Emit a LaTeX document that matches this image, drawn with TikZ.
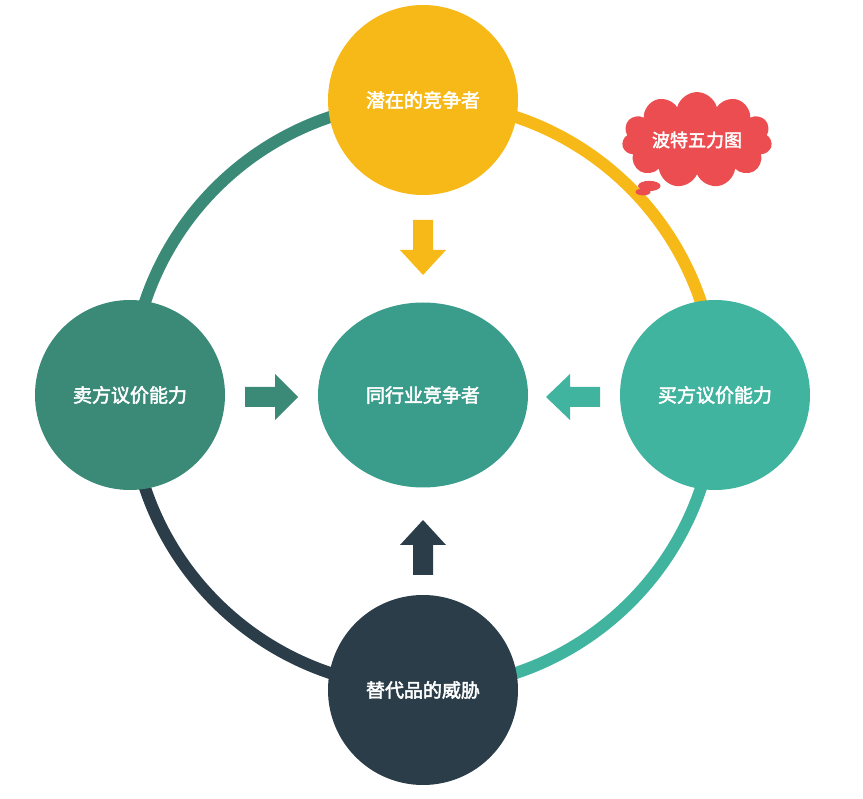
\documentclass[tikz,border=0pt]{standalone}
\usepackage{fontspec}
\setmainfont[AutoFakeBold=2.5]{Noto Sans CJK SC}
\usetikzlibrary{shapes.callouts,shapes.symbols,shapes.geometric}
\definecolor{cyel}{HTML}{F6B917}
\definecolor{cdark}{HTML}{3B8A78}
\definecolor{clight}{HTML}{41B4A0}
\definecolor{cnavy}{HTML}{2A3D49}
\definecolor{cmid}{HTML}{3A9C8A}
\definecolor{cred}{HTML}{EC4D50}
\tikzset{x=1pt,y=1pt,
 ball/.style={circle,minimum size=190pt,inner sep=0pt,text=white,font=\bfseries\fontsize{19}{19}\selectfont},
 ringseg/.style={line width=12pt}}
\begin{document}
\begin{tikzpicture}
\useasboundingbox (0,0) rectangle (863,-799);
\coordinate (c) at (423,-395);
\draw[ringseg,cdark] (423,-102) arc[start angle=90,end angle=180,radius=293];
\draw[ringseg,cyel] (423,-102) arc[start angle=90,end angle=0,radius=293];
\draw[ringseg,clight] (716,-395) arc[start angle=0,end angle=-90,radius=293];
\draw[ringseg,cnavy] (130,-395) arc[start angle=180,end angle=270,radius=293];
\node[ball,fill=cyel] (top) at (423,-100) {潜在的竞争者};
\node[ball,fill=cdark] (left) at (130,-395) {卖方议价能力};
\node[ball,fill=clight] (right) at (715,-395) {买方议价能力};
\node[ball,fill=cnavy] (bot) at (423,-690) {替代品的威胁};
\node[ellipse,minimum width=210pt,minimum height=185pt,fill=cmid,text=white,font=\bfseries\fontsize{19}{19}\selectfont] (mid) at (c) {同行业竞争者};
\fill[cyel] (413,-220) -- (433,-220) -- (433,-250) -- (446,-250) -- (423,-275) -- (400,-250) -- (413,-250) -- cycle;
\fill[cnavy] (413,-575) -- (433,-575) -- (433,-545) -- (446,-545) -- (423,-520) -- (400,-545) -- (413,-545) -- cycle;
\fill[cdark] (245,-387) -- (275,-387) -- (275,-374) -- (298,-397) -- (275,-420) -- (275,-407) -- (245,-407) -- cycle;
\fill[clight] (600,-387) -- (570,-387) -- (570,-374) -- (546,-397) -- (570,-420) -- (570,-407) -- (600,-407) -- cycle;
\node[cloud callout,cloud puffs=11,aspect=1.9,minimum width=150pt,minimum height=90pt,fill=cred,text=white,font=\bfseries\fontsize{18}{18}\selectfont,callout absolute pointer={(643,-192)},inner sep=2pt] (cloud) at (697,-140) {波特五力图};
\end{tikzpicture}
\end{document}
